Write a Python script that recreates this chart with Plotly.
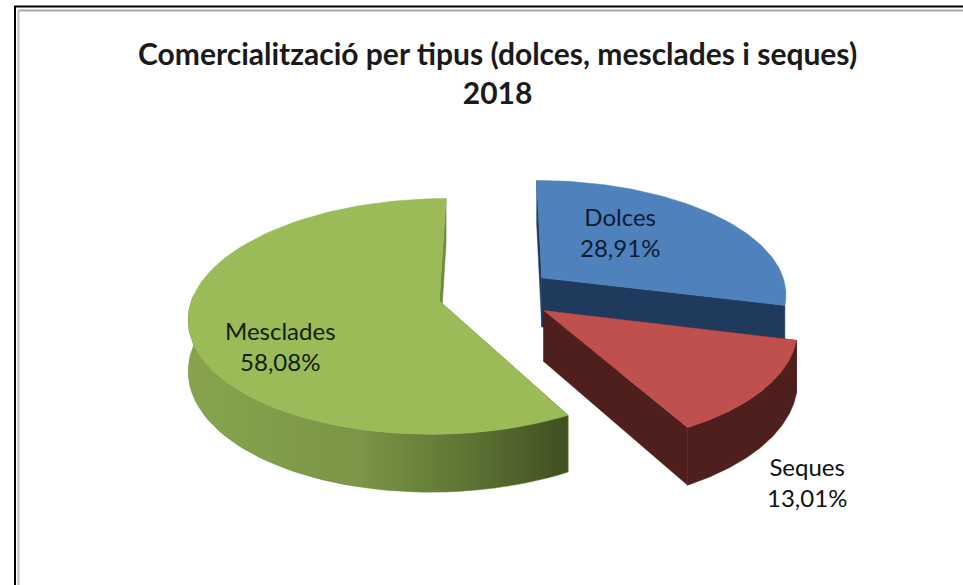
import numpy as np
import plotly.graph_objects as go

# ---- data ----
categories = ["Dolces", "Seques", "Mesclades"]
shares = [28.91, 13.01, 58.08]
explode = [0.235, 0.235, 0.24]
top_colors = ["#4F81BD", "#C0504D", "#9BBB59"]
side_colors = ["#1F3A5C", "#4F1F1E", "#6F8A3C"]
label_colors = ["#0E1C33", "#111111", "#10200A"]
title_lines = ["Comercialització per tipus (dolces, mesclades i seques)", "2018"]
label_xy = [(620, 232), (807, 482), (280, 346)]

# ---- projection of the tilted disc (paper pixels) ----
CX, CY, RX, RY, K, DEPTH = 497.0, 294.0, 246.0, 114.0, 0.13, 50.0


def project(X, Y, drop=0.0):
    w = 1 + K * Y
    return CX + RX * X / w, CY - RY * Y / w + drop * DEPTH / w


def wedge(a0, a1, off):
    t = np.radians(np.linspace(a0, a1, 90))
    return np.sin(t) + off[0], np.cos(t) + off[1]


fig = go.Figure()
start = 0.0
for cat, share, ex, top, side in zip(categories, shares, explode, top_colors, side_colors):
    a0 = start
    a1 = start + share * 3.6
    start = a1
    mid = np.radians((a0 + a1) / 2)
    off = (ex * np.sin(mid), ex * np.cos(mid))
    ax, ay = wedge(a0, a1, off)
    ox, oy = off

    def add_poly(X0, Y0, X1, Y1, color, grad=None):
        xa, ya = project(np.asarray(X0), np.asarray(Y0))
        xb, yb = project(np.asarray(X1), np.asarray(Y1), 1.0)
        xs = np.r_[xa, xb[::-1], xa[0]]
        ys = np.r_[ya, yb[::-1], ya[0]]
        kw = dict(fillgradient=grad) if grad else dict(fillcolor=color)
        fig.add_trace(go.Scatter(x=xs, y=ys, mode="lines", fill="toself",
                                 line=dict(width=0.5, color=color), hoverinfo="skip", **kw))

    # radial walls
    add_poly([ox, ax[0]], [oy, ay[0]], [ox, ax[0]], [oy, ay[0]], side)
    add_poly([ox, ax[-1]], [oy, ay[-1]], [ox, ax[-1]], [oy, ay[-1]], side)
    # outer wall, front-facing part only
    deg = np.linspace(a0, a1, 90)
    front = (deg >= 104) & (deg <= 275)
    if front.sum() > 1:
        grad = None
        if cat == "Mesclades":
            grad = dict(type="horizontal", colorscale=[
                [0, "#87A44D"], [0.45, "#7A9646"], [0.75, "#5C7233"], [1, "#3F4F20"]])
        add_poly(ax[front], ay[front], ax[front], ay[front], side, grad)
    # top face
    fx, fy = project(np.r_[ox, ax, ox], np.r_[oy, ay, oy])
    fig.add_trace(go.Scatter(x=fx, y=fy, mode="lines", fill="toself", fillcolor=top,
                             line=dict(width=0.5, color=top), hoverinfo="skip"))

for cat, share, (lx, ly), col in zip(categories, shares, label_xy, label_colors):
    pct = f"{share:.2f}".replace(".", ",") + "%"
    fig.add_annotation(x=lx, y=ly, xref="x", yref="y", showarrow=False,
                       text=f"{cat}<br>{pct}", align="center",
                       font=dict(family="Lato", size=24, color=col))

fig.add_annotation(x=497, y=72, xref="x", yref="y", showarrow=False,
                   text="<br>".join(f"<b>{t}</b>" for t in title_lines), align="center",
                   font=dict(family="Lato", size=30, color="#1A1A1A"))

# frame: only the top and left edges are drawn
for x0, y0, x1, y1, col, w in [
    (14, 6.5, 963, 6.5, "#000000", 2),
    (15, 6, 15, 585, "#000000", 2),
    (18, 10.5, 963, 10.5, "#A6A6A6", 2),
    (18.5, 10, 18.5, 585, "#BDBDBD", 2),
]:
    fig.add_shape(type="line", xref="x", yref="y", x0=x0, y0=y0, x1=x1, y1=y1,
                  line=dict(color=col, width=w))

fig.update_layout(
    width=963, height=585, margin=dict(l=0, r=0, t=0, b=0),
    paper_bgcolor="white", plot_bgcolor="white", showlegend=False,
    xaxis=dict(range=[0, 963], visible=False, fixedrange=True),
    yaxis=dict(range=[585, 0], visible=False, fixedrange=True),
)
fig.write_html("out.html", config=dict(displayModeBar=False),
               post_script="document.body.style.margin='0';document.body.style.overflow='hidden';")
